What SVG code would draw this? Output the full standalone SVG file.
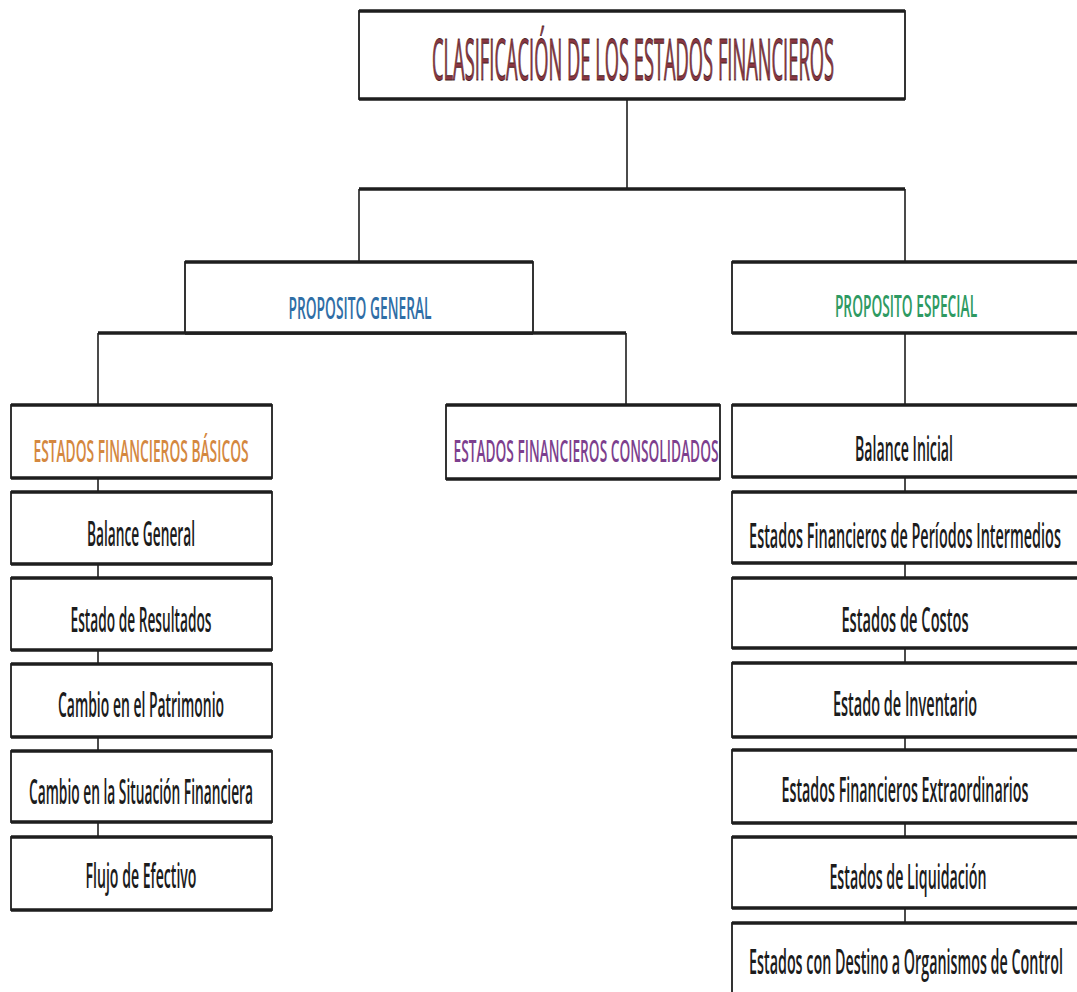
<svg xmlns="http://www.w3.org/2000/svg" width="1077" height="992" viewBox="0 0 1077 992">
<style>
.bx{fill:#fff;stroke:#1e1e1e;stroke-width:1.8}
.ed{stroke:#1e1e1e;stroke-width:3.6;fill:none}
.cv{stroke:#1e1e1e;stroke-width:1.6;fill:none}
.ch{stroke:#1e1e1e;stroke-width:3.4;fill:none}
text{font-family:"Open Sans","Noto Sans","Liberation Sans",sans-serif;text-anchor:middle;font-weight:600}
.t{font-size:35px;fill:#1c1c1c}
.h{font-size:31px}
.tt{font-size:56px;font-weight:400;fill:#8a3843;stroke:#4a1e24;stroke-width:1}
</style>
<rect width="1077" height="992" fill="#fff"/>
<g id="connectors">
<path class="cv" d="M627,99 V189"/>
<path class="ch" d="M359,189 H905"/>
<path class="cv" d="M359,189 V262 M905,189 V262"/>
<path class="ch" d="M98,333 H626"/>
<path class="cv" d="M98,333 V405 M626,333 V405"/>
<path class="cv" d="M98,478 V837"/>
<path class="cv" d="M905,333 V923"/>
</g>
<g id="title">
<rect class="bx" x="359" y="11" width="546" height="88"/>
<path class="ed" d="M359,11 H905 M359,99 H905"/>
<text class="tt" transform="translate(633,80) scale(0.326,1)" textLength="1233" lengthAdjust="spacingAndGlyphs">CLASIFICACIÓN DE LOS ESTADOS FINANCIEROS</text>
</g>
<g id="proposito-general">
<rect class="bx" x="185" y="262" width="348" height="71"/>
<path class="ed" d="M185,262 H533 M185,333 H533"/>
<text class="h" transform="translate(360,319) scale(0.45,1)" fill="#2f6ea6" textLength="318" lengthAdjust="spacingAndGlyphs">PROPOSITO GENERAL</text>
</g>
<g id="proposito-especial">
<rect class="bx" x="732" y="262" width="346" height="71"/>
<path class="ed" d="M732,262 H1078 M732,333 H1078"/>
<text class="h" transform="translate(906,317) scale(0.45,1)" fill="#2e9a62" textLength="316" lengthAdjust="spacingAndGlyphs">PROPOSITO ESPECIAL</text>
</g>
<g id="basicos">
<rect class="bx" x="11" y="405" width="261" height="73"/>
<path class="ed" d="M11,405 H272 M11,478 H272"/>
<text class="h" transform="translate(141,462) scale(0.45,1)" fill="#d4883f" textLength="478" lengthAdjust="spacingAndGlyphs">ESTADOS FINANCIEROS BÁSICOS</text>
</g>
<g id="consolidados">
<rect class="bx" x="446" y="405" width="274" height="74"/>
<path class="ed" d="M446,405 H720 M446,479 H720"/>
<text class="h" transform="translate(586,462) scale(0.45,1)" fill="#7d3f8e" textLength="589" lengthAdjust="spacingAndGlyphs">ESTADOS FINANCIEROS CONSOLIDADOS</text>
</g>
<g id="balance-general">
<rect class="bx" x="11" y="492" width="261" height="72"/>
<path class="ed" d="M11,492 H272 M11,564 H272"/>
<text class="t" transform="translate(141,546) scale(0.405,1)" textLength="267" lengthAdjust="spacingAndGlyphs">Balance General</text>
</g>
<g id="estado-resultados">
<rect class="bx" x="11" y="578" width="261" height="72"/>
<path class="ed" d="M11,578 H272 M11,650 H272"/>
<text class="t" transform="translate(141,632) scale(0.405,1)" textLength="348" lengthAdjust="spacingAndGlyphs">Estado de Resultados</text>
</g>
<g id="cambio-patrimonio">
<rect class="bx" x="11" y="664" width="261" height="73"/>
<path class="ed" d="M11,664 H272 M11,737 H272"/>
<text class="t" transform="translate(141,717) scale(0.405,1)" textLength="410" lengthAdjust="spacingAndGlyphs">Cambio en el Patrimonio</text>
</g>
<g id="cambio-situacion">
<rect class="bx" x="11" y="751" width="261" height="71"/>
<path class="ed" d="M11,751 H272 M11,822 H272"/>
<text class="t" transform="translate(141,804) scale(0.405,1)" textLength="553" lengthAdjust="spacingAndGlyphs">Cambio en la Situación Financiera</text>
</g>
<g id="flujo-efectivo">
<rect class="bx" x="11" y="837" width="261" height="73"/>
<path class="ed" d="M11,837 H272 M11,910 H272"/>
<text class="t" transform="translate(141,888) scale(0.405,1)" textLength="274" lengthAdjust="spacingAndGlyphs">Flujo de Efectivo</text>
</g>
<g id="balance-inicial">
<rect class="bx" x="732" y="405" width="346" height="72"/>
<path class="ed" d="M732,405 H1078 M732,477 H1078"/>
<text class="t" transform="translate(904,461) scale(0.405,1)" textLength="242" lengthAdjust="spacingAndGlyphs">Balance Inicial</text>
</g>
<g id="periodos-intermedios">
<rect class="bx" x="732" y="492" width="346" height="71"/>
<path class="ed" d="M732,492 H1078 M732,563 H1078"/>
<text class="t" transform="translate(905,548) scale(0.405,1)" textLength="770" lengthAdjust="spacingAndGlyphs">Estados Financieros de Períodos Intermedios</text>
</g>
<g id="costos">
<rect class="bx" x="732" y="578" width="346" height="70"/>
<path class="ed" d="M732,578 H1078 M732,648 H1078"/>
<text class="t" transform="translate(905,632) scale(0.405,1)" textLength="314" lengthAdjust="spacingAndGlyphs">Estados de Costos</text>
</g>
<g id="inventario">
<rect class="bx" x="732" y="663" width="346" height="74"/>
<path class="ed" d="M732,663 H1078 M732,737 H1078"/>
<text class="t" transform="translate(905,716) scale(0.405,1)" textLength="356" lengthAdjust="spacingAndGlyphs">Estado de Inventario</text>
</g>
<g id="extraordinarios">
<rect class="bx" x="732" y="750" width="346" height="73"/>
<path class="ed" d="M732,750 H1078 M732,823 H1078"/>
<text class="t" transform="translate(905,802) scale(0.405,1)" textLength="610" lengthAdjust="spacingAndGlyphs">Estados Financieros Extraordinarios</text>
</g>
<g id="liquidacion">
<rect class="bx" x="732" y="837" width="346" height="71"/>
<path class="ed" d="M732,837 H1078 M732,908 H1078"/>
<text class="t" transform="translate(908,889) scale(0.405,1)" textLength="388" lengthAdjust="spacingAndGlyphs">Estados de Liquidación</text>
</g>
<g id="organismos">
<rect class="bx" x="732" y="923" width="346" height="80"/>
<path class="ed" d="M732,923 H1078"/>
<text class="t" transform="translate(906,974) scale(0.405,1)" textLength="775" lengthAdjust="spacingAndGlyphs">Estados con Destino a Organismos de Control</text>
</g>
</svg>
